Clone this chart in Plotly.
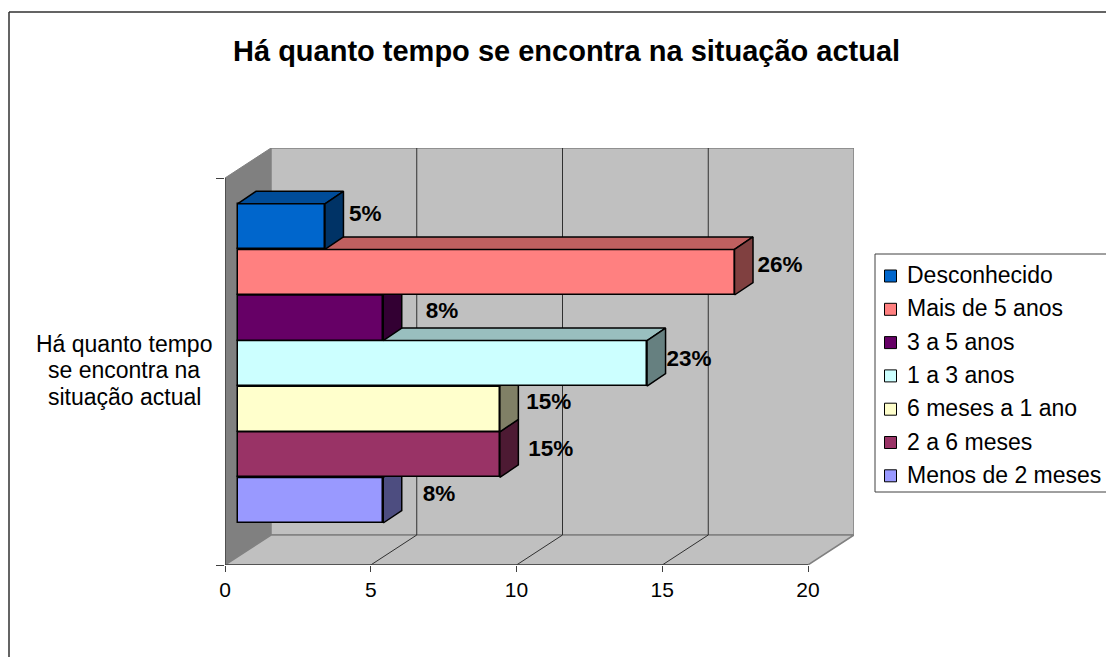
import plotly.graph_objects as go

# ---------- data (bottom bar first) ----------
TITLE = "Há quanto tempo se encontra na situação actual"
CATEGORY_LINES = ["Há quanto tempo", "se encontra na", "situação actual"]
SERIES = ["Menos de 2 meses", "2 a 6 meses", "6 meses a 1 ano", "1 a 3 anos",
          "3 a 5 anos", "Mais de 5 anos", "Desconhecido"]
VALUES = [5, 9, 9, 14.05, 5, 17.05, 3]
LABELS = ["8%", "15%", "15%", "23%", "8%", "26%", "5%"]
X_TICKS = [0, 5, 10, 15, 20]

# ---------- styles ----------
FRONT = ["#9999FF", "#993366", "#FFFFCC", "#CCFFFF", "#660066", "#FF8080", "#0066CC"]
TOP = ["#7373BF", "#732650", "#BFBF99", "#99BFBF", "#4C004C", "#BF6060", "#004C99"]
SIDE = ["#4D4D80", "#4D1A33", "#808066", "#668080", "#330033", "#804040", "#003366"]
FONT = "Liberation Sans, Arial, sans-serif"
W, H = 1106, 657

# ---------- layout geometry (pixels) ----------
PX_X0, PX_X_END, PX_Y0, PX_Y_TOP = 225, 854, 565, 148
PX_PER_X, PX_PER_Y = 29.15, 45.6
x_max = (PX_X_END - PX_X0) / PX_PER_X
y_max = (PX_Y0 - PX_Y_TOP) / PX_PER_Y
DOM_X = [PX_X0 / W, PX_X_END / W]
DOM_Y = [1 - PX_Y0 / H, 1 - PX_Y_TOP / H]

wall_dx, wall_dy = 46 / PX_PER_X, 30 / PX_PER_Y      # depth of the box
bar_dx, bar_dy = 18.5 / PX_PER_X, 12.5 / PX_PER_Y    # depth of a bar
bar_x0 = 12.5 / PX_PER_X
bar_y0 = (PX_Y0 - 523) / PX_PER_Y
wall_h = (PX_Y0 - 178) / PX_PER_Y
x_end = X_TICKS[-1]
# label nudges in pixels from the bar's outer side corner / centre
NUDGE_X = [21, 10, 8, 1, 24, 4.5, 5.5]
NUDGE_Y = [5, 4, 5.5, 3.5, 5, 5.5, 11.5]
CATEGORY_PX_Y = [344, 370, 397]

fig = go.Figure()


def poly(xs, ys, fill, line, width=1, ax=("x", "y")):
    fig.add_trace(go.Scatter(x=xs, y=ys, mode="lines", fill="toself", fillcolor=fill,
                             line=dict(color=line, width=width), hoverinfo="skip",
                             showlegend=False, xaxis=ax[0], yaxis=ax[1]))


def seg(xs, ys, color, width=1, ax=("x", "y")):
    fig.add_trace(go.Scatter(x=xs, y=ys, mode="lines", line=dict(color=color, width=width),
                             hoverinfo="skip", showlegend=False, xaxis=ax[0], yaxis=ax[1]))


# walls and floor
poly([0, wall_dx, wall_dx, 0, 0], [0, wall_dy, wall_dy + wall_h, wall_h, 0], "#808080", "#808080")
poly([wall_dx, x_max, x_max, wall_dx, wall_dx],
     [wall_dy, wall_dy, wall_dy + wall_h, wall_dy + wall_h, wall_dy], "#C0C0C0", "#808080", 1.5)
poly([0, x_end, x_end + wall_dx, wall_dx, 0], [0, 0, wall_dy, wall_dy, 0], "#C0C0C0", "#808080", 1.5)
for t in X_TICKS[1:-1]:
    seg([t, t + wall_dx, t + wall_dx], [0, wall_dy, wall_dy + wall_h], "#303030")
seg([0, 0], [0, wall_h], "#404040", 1.5)
seg([0, x_end], [0, 0], "#404040", 1.5)

axes = {}
axes["xaxis"] = dict(domain=DOM_X, range=[0, x_max], tickvals=X_TICKS, ticks="outside", ticklen=6,
                     tickcolor="#404040", showgrid=False, zeroline=False, showline=False,
                     tickfont=dict(family=FONT, size=21, color="black"), fixedrange=True)
axes["yaxis"] = dict(domain=DOM_Y, range=[0, y_max], tickvals=[0, wall_h], ticktext=["", ""],
                     ticks="outside", ticklen=8, tickcolor="#404040", showgrid=False,
                     zeroline=False, showline=False, fixedrange=True)


def overlay(n):
    axes[f"xaxis{n}"] = dict(domain=DOM_X, range=[0, x_max], overlaying="x", visible=False, fixedrange=True)
    axes[f"yaxis{n}"] = dict(domain=DOM_Y, range=[0, y_max], overlaying="y", visible=False, fixedrange=True)
    return (f"x{n}", f"y{n}")


# bars: each on its own overlay so upper bars hide the depth faces of lower ones
for i, (name, v) in enumerate(zip(SERIES, VALUES)):
    ax = overlay(i + 2)
    c_y = bar_y0 + i + 0.5
    r = bar_x0 + v
    top, bot = c_y + 0.5, c_y - 0.5
    fig.add_trace(go.Bar(y=[c_y], x=[v], base=[bar_x0], width=[1], orientation="h", name=name,
                         marker=dict(color=FRONT[i], line=dict(color="black", width=1.5)),
                         showlegend=False, xaxis=ax[0], yaxis=ax[1]))
    poly([bar_x0, r, r + bar_dx, bar_x0 + bar_dx, bar_x0],
         [top, top, top + bar_dy, top + bar_dy, top], TOP[i], "black", 1.5, ax)
    poly([r, r + bar_dx, r + bar_dx, r, r],
         [bot, bot + bar_dy, top + bar_dy, top, bot], SIDE[i], "black", 1.5, ax)

# data labels
ax = overlay(9)
for i, (v, lab) in enumerate(zip(VALUES, LABELS)):
    lx = bar_x0 + v + bar_dx + NUDGE_X[i] / PX_PER_X
    ly = bar_y0 + i + 0.5 + NUDGE_Y[i] / PX_PER_Y
    fig.add_trace(go.Scatter(x=[lx], y=[ly], mode="text", text=[f"<b>{lab}</b>"],
                             textposition="middle right", cliponaxis=False, hoverinfo="skip",
                             textfont=dict(family=FONT, size=22.5, color="black"),
                             showlegend=False, xaxis=ax[0], yaxis=ax[1]))

# legend drawn in page pixels (top row is the last series)
axes["xaxis10"] = dict(domain=[0, 1], range=[0, W], visible=False, fixedrange=True, anchor="y10")
axes["yaxis10"] = dict(domain=[0, 1], range=[H, 0], visible=False, fixedrange=True, anchor="x10")
fig.add_shape(type="rect", xref="paper", yref="paper", x0=875 / W, x1=1.05,
              y0=1 - 492 / H, y1=1 - 254 / H, line=dict(color="#404040", width=1), fillcolor="white", layer="below")
for row, i in enumerate(reversed(range(len(SERIES)))):
    y = 275 + row * 33.3
    fig.add_trace(go.Scatter(x=[890.5], y=[y + 1], mode="markers", name=SERIES[i],
                             marker=dict(symbol="square", size=12, color=FRONT[i],
                                         line=dict(color="black", width=1)),
                             showlegend=False, hoverinfo="skip", xaxis="x10", yaxis="y10"))
fig.update_layout(
    annotations=[
        dict(text=f"<b>{TITLE}</b>", xref="paper", yref="paper", x=566 / W, y=1 - 51 / H,
             showarrow=False, xanchor="center", yanchor="middle",
             font=dict(family=FONT, size=29, color="black")),
    ] + [
        dict(text=line, xref="paper", yref="paper", x=124 / W, y=1 - py / H, showarrow=False,
             xanchor="center", yanchor="middle", align="center",
             font=dict(family=FONT, size=23, color="black"))
        for line, py in zip(CATEGORY_LINES, CATEGORY_PX_Y)
    ] + [
        dict(text=SERIES[i], xref="paper", yref="paper", x=905 / W, y=1 - (275 + row * 33.3) / H,
             showarrow=False, xanchor="left", yanchor="middle",
             font=dict(family=FONT, size=23, color="black"))
        for row, i in enumerate(reversed(range(len(SERIES))))
    ],
    shapes=list(fig.layout.shapes) + [
        dict(type="line", xref="paper", yref="paper", x0=9 / W, x1=1.02, y0=1 - 12 / H, y1=1 - 12 / H,
             line=dict(color="#303030", width=1.5)),
        dict(type="line", xref="paper", yref="paper", x0=9 / W, x1=9 / W, y0=1 - 12 / H, y1=-0.02,
             line=dict(color="#303030", width=1.5)),
    ],
    width=W, height=H, margin=dict(l=0, r=0, t=0, b=0, pad=0, autoexpand=False),
    paper_bgcolor="white", plot_bgcolor="rgba(0,0,0,0)", showlegend=False, bargap=0,
    barmode="overlay", **axes)

fig.write_html("out.html", config=dict(displayModeBar=False),
               post_script="document.body.style.margin='0';document.body.style.overflow='hidden';")
